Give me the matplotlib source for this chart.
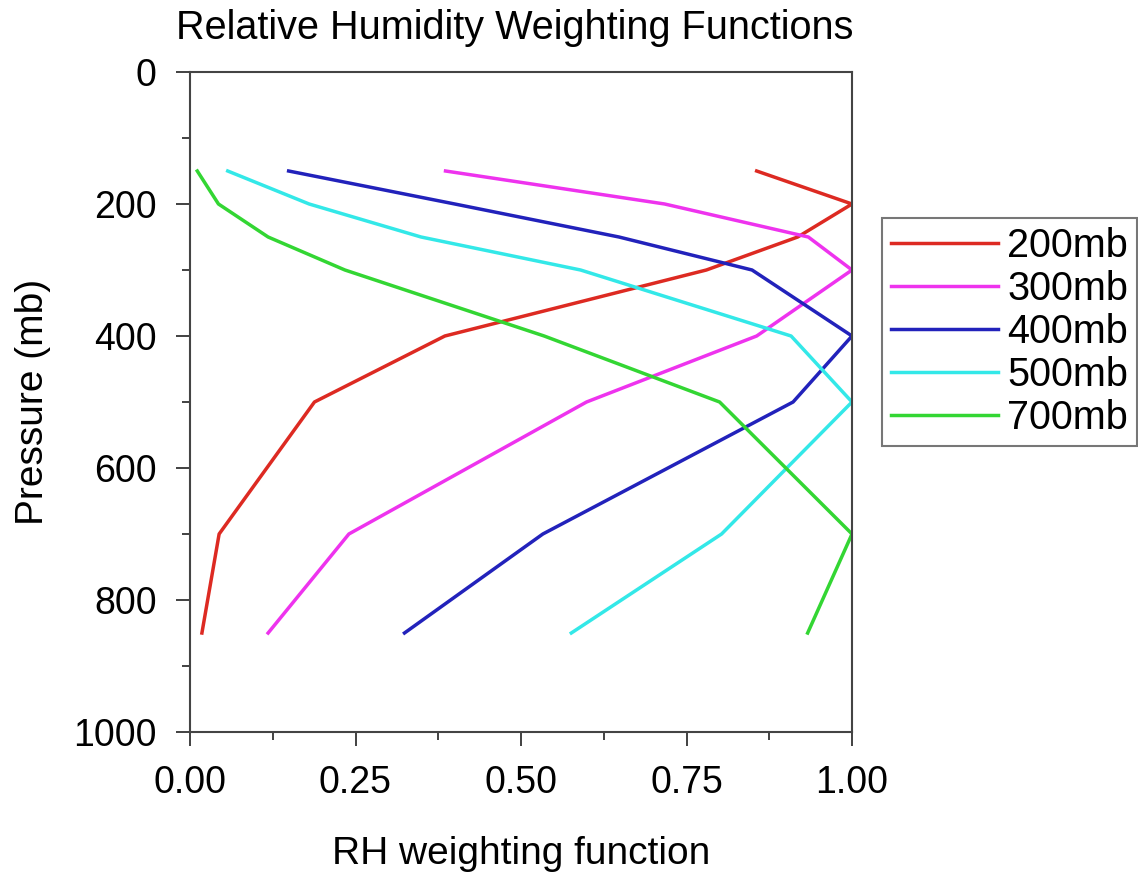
import matplotlib
matplotlib.use('Agg')
import matplotlib.pyplot as plt
import numpy as np
from matplotlib.ticker import MultipleLocator

# ------------------- DATA ----------------
pressure = [150, 200, 250, 300, 400, 500, 700, 850]
wf_200 = [0.856, 1.00, 0.918, 0.78, 0.385, 0.188, 0.044, 0.018]
wf_300 = [0.386, 0.717, 0.934, 1.00, 0.856, 0.599, 0.240, 0.118]
wf_400 = [0.149, 0.400, 0.648, 0.849, 1.00, 0.911, 0.533, 0.324]
wf_500 = [0.057, 0.180, 0.349, 0.590, 0.908, 1.00, 0.803, 0.576]
wf_700 = [0.011, 0.043, 0.118, 0.234, 0.535, 0.800, 1.00, 0.933]
labels = ['200mb', '300mb', '400mb', '500mb', '700mb']
colors = ['#dd2a22', '#ee33ee', '#2222bb', '#33e8e8', '#33d633']

plt.rcParams['font.family'] = ['Liberation Sans', 'DejaVu Sans']
FS = 27

fig = plt.figure(figsize=(11.38, 8.72), dpi=100)
ax = fig.add_axes([190/1138, 1 - 732/872, (852-190)/1138, (732-72)/872])

for wf, lab, col in zip([wf_200, wf_300, wf_400, wf_500, wf_700], labels, colors):
    ax.plot(wf, pressure, color=col, lw=2.5, label=lab)

ax.set_xlim(0, 1)
ax.set_ylim(1000, 0)
ax.xaxis.set_major_locator(MultipleLocator(0.25))
ax.xaxis.set_minor_locator(MultipleLocator(0.125))
ax.yaxis.set_major_locator(MultipleLocator(200))
ax.yaxis.set_minor_locator(MultipleLocator(100))
ax.xaxis.set_major_formatter(plt.FormatStrFormatter('%.2f'))
ax.tick_params(which='major', direction='out', length=10, width=1.3, labelsize=FS, pad=14, color='#333333')
ax.tick_params(which='minor', direction='out', length=6, width=1.3, color='#333333')
for s in ax.spines.values():
    s.set_linewidth(1.5)
    s.set_color('#444444')

ax.set_title('Relative Humidity Weighting Functions', fontsize=28.5, pad=24, x=0.49)
ax.set_xlabel('RH weighting function', fontsize=28, labelpad=25)
ax.set_ylabel('Pressure (mb)', fontsize=28, labelpad=16)

leg = ax.legend(loc='upper left', bbox_to_anchor=(882/1138, 1 - 218/872),
                bbox_transform=fig.transFigure, borderaxespad=0, fontsize=28.5,
                frameon=True, fancybox=False, handlelength=2.7, handletextpad=0.25,
                labelspacing=0.13, borderpad=0.22)
leg.get_frame().set_edgecolor('#555555')
leg.get_frame().set_linewidth(1.5)

fig.savefig('out.png', dpi=100)
